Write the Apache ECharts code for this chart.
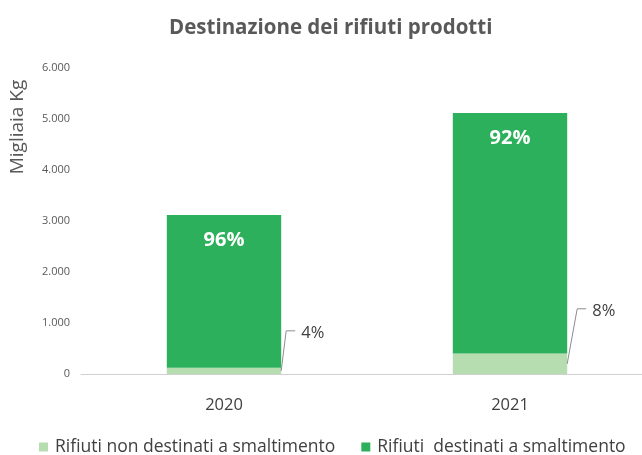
<!DOCTYPE html>
<html>
<head>
<meta charset="utf-8">
<script src="https://cdn.jsdelivr.net/npm/echarts@6/dist/echarts.min.js"></script>
<style>
  html, body { margin: 0; padding: 0; background: #fff; }
  #chart { width: 642px; height: 455px; }
</style>
</head>
<body>
<div id="chart"></div>
<script>
// Waste produced per year, in thousands of kg
const years = ['2020', '2021'];
const notForDisposal = [125, 400];   // Rifiuti non destinati a smaltimento
const forDisposal = [2995, 4720];    // Rifiuti destinati a smaltimento
const yTicks = { min: 0, max: 6000, interval: 1000 };

const seriesNames = ['Rifiuti non destinati a smaltimento', 'Rifiuti  destinati a smaltimento'];
const lightGreen = '#b5ddb0';
const darkGreen = '#2cb05c';
const textGray = '#595959';
const darkText = '#404040';

const totals = years.map((_, i) => notForDisposal[i] + forDisposal[i]);
const pct = (v, i) => Math.round(v / totals[i] * 100) + '%';

// pixel offsets of the callout labels relative to the bar's bottom-right corner
const calloutOffsets = [[5, -40], [10, -55]];

const chart = echarts.init(document.getElementById('chart'));
chart.setOption({
  animation: false,
  textStyle: { fontFamily: 'Open Sans' },
  title: {
    text: 'Destinazione dei rifiuti prodotti',
    left: 164,
    top: 13,
    textStyle: { fontFamily: 'Open Sans', fontSize: 20.5, fontWeight: 'bold', color: textGray }
  },
  graphic: [{
    type: 'text',
    x: 18,
    y: 127,
    rotation: Math.PI / 2,
    style: {
      text: 'Migliaia Kg',
      fontFamily: 'Open Sans',
      fontSize: 19,
      fill: textGray,
      align: 'center',
      verticalAlign: 'middle'
    }
  }],
  legend: {
    top: 433,
    left: 34,
    itemWidth: 9,
    itemHeight: 9,
    itemGap: 26,
    icon: 'rect',
    textStyle: { fontSize: 17.5, color: darkText, padding: [0, 0, 0, 2] },
    data: seriesNames
  },
  grid: { left: 81, top: 68, width: 572, height: 306, outerBoundsMode: 'none', containLabel: false },
  xAxis: {
    type: 'category',
    data: years,
    axisLine: { lineStyle: { color: '#d0d0d0', width: 1 } },
    axisTick: { show: false },
    axisLabel: { fontSize: 16.5, color: darkText, margin: 23 }
  },
  yAxis: {
    type: 'value',
    min: yTicks.min,
    max: yTicks.max,
    interval: yTicks.interval,
    splitLine: { show: false },
    axisLine: { show: false },
    axisTick: { show: false },
    axisLabel: {
      fontSize: 11,
      color: textGray,
      margin: 11,
      formatter: v => v === 0 ? '0' : v.toLocaleString('it-IT')
    }
  },
  series: [
    {
      name: seriesNames[0],
      type: 'bar',
      stack: 'total',
      barWidth: '40%',
      itemStyle: { color: lightGreen },
      data: notForDisposal
    },
    {
      name: seriesNames[1],
      type: 'bar',
      stack: 'total',
      barWidth: '40%',
      itemStyle: { color: darkGreen },
      label: {
        show: true,
        position: 'insideTop',
        distance: 15,
        fontSize: 20,
        fontWeight: 'bold',
        color: '#ffffff',
        formatter: p => pct(p.value, p.dataIndex)
      },
      data: forDisposal
    },
    {
      // callout lines and labels for the small segment
      name: 'callouts',
      type: 'custom',
      silent: true,
      z: 5,
      data: notForDisposal.map((v, i) => [i, v]),
      renderItem: (params, api) => {
        const i = api.value(0);
        const v = api.value(1);
        const band = api.size([1, 0])[0];
        const mid = api.coord([i, v / 2]);
        const x0 = mid[0] + band * 0.2;
        const y0 = mid[1];
        const off = calloutOffsets[i];
        const x1 = x0 + off[0];
        const y1 = y0 + off[1];
        return {
          type: 'group',
          children: [
            {
              type: 'polyline',
              shape: { points: [[x0, y0], [x1, y1], [x1 + 9, y1]] },
              style: { stroke: '#8c8c8c', lineWidth: 1, fill: null }
            },
            {
              type: 'text',
              style: {
                x: x1 + 15,
                y: y1 + 2,
                text: pct(v, i),
                fontFamily: 'Open Sans',
                fontSize: 16.5,
                fill: darkText,
                verticalAlign: 'middle'
              }
            }
          ]
        };
      }
    }
  ]
});
</script>
</body>
</html>
